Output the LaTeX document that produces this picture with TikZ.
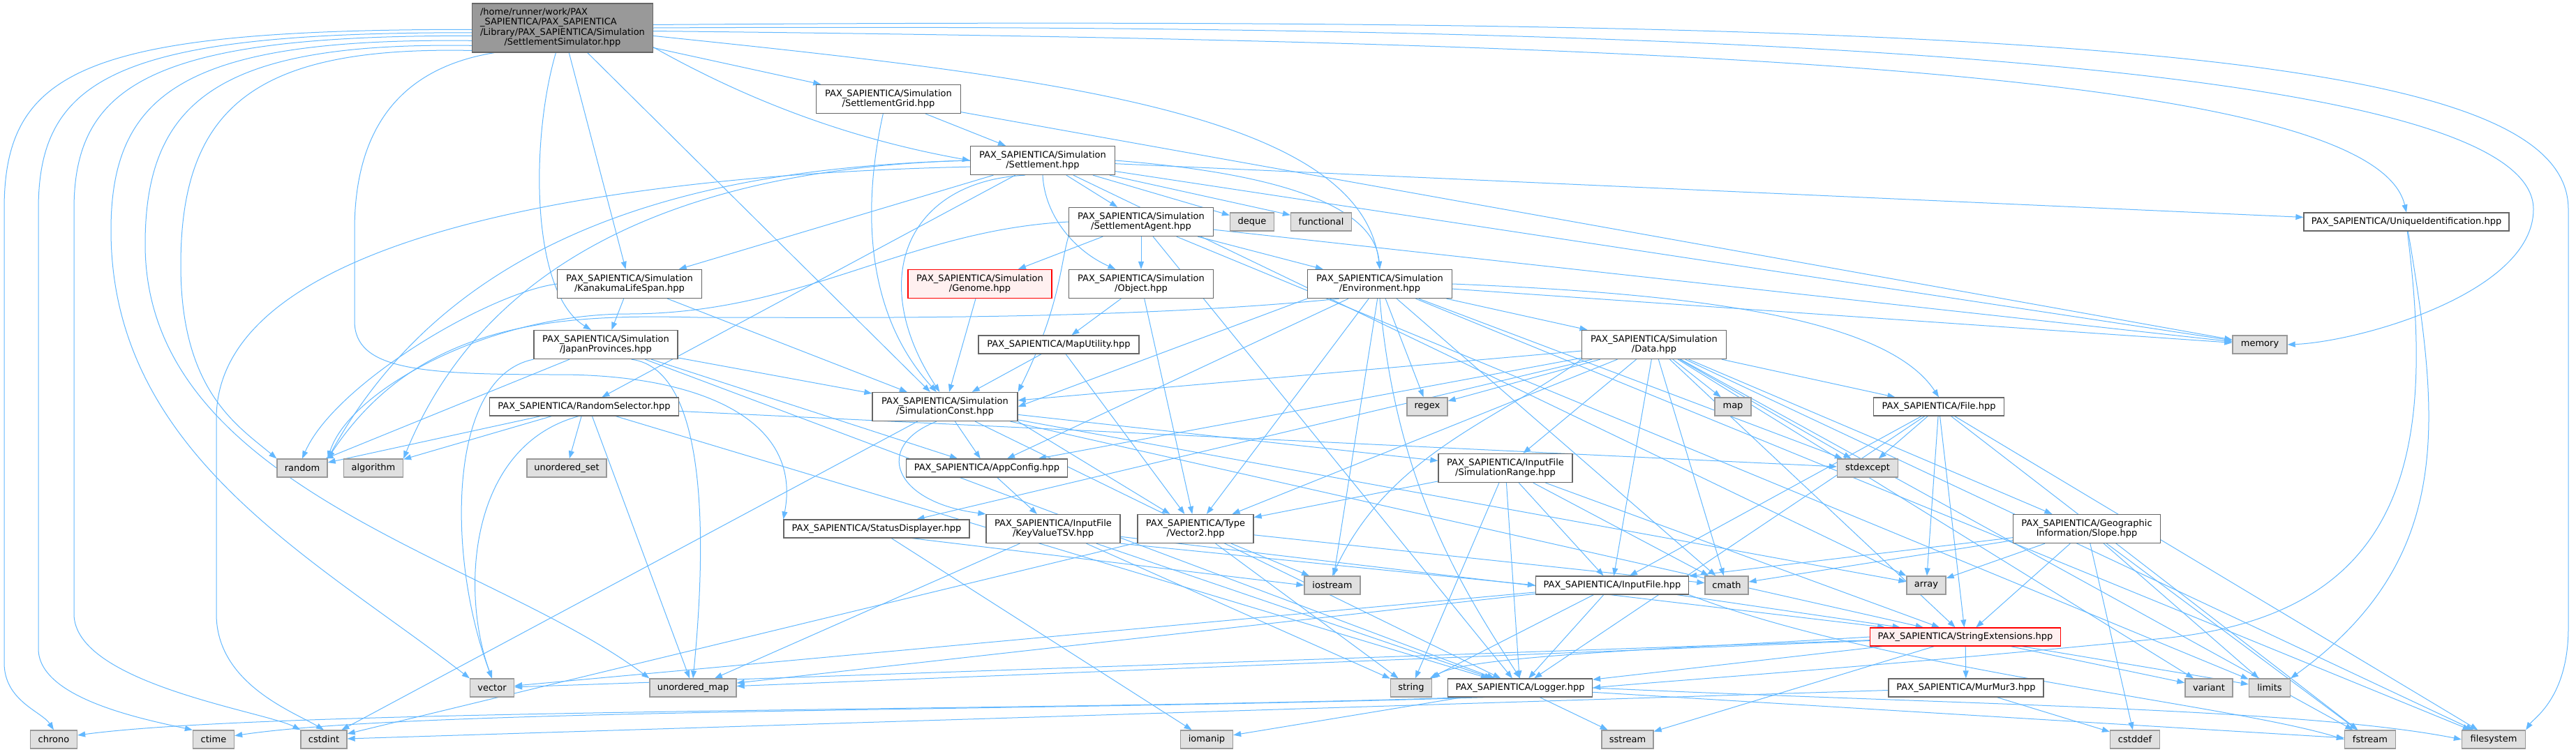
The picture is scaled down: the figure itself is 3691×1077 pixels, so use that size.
\documentclass[tikz,border=0pt]{standalone}
\usepackage{fontspec}
\setmainfont{DejaVu Sans}
\usetikzlibrary{arrows.meta,backgrounds}
\definecolor{edgeblue}{HTML}{63B8FF}
\definecolor{hdrgray}{HTML}{666666}
\definecolor{sysgray}{HTML}{999999}
\definecolor{sysfill}{HTML}{E0E0E0}
\definecolor{rootfill}{HTML}{999999}
\definecolor{redfill}{HTML}{FFF0F0}

\begin{document}
\begin{tikzpicture}[
  x=1pt, y=-1pt,
  font=\fontsize{13}{14.5}\selectfont,
  hbox/.style={draw=hdrgray, fill=white, line width=1.3pt, inner sep=0pt,
    align=center, minimum height=26pt, minimum width=#1},
  sbox/.style={hbox=#1, draw=sysgray, fill=sysfill},
  rbox/.style={hbox=#1, draw=red, fill=redfill},
  topbox/.style={hbox=#1, fill=rootfill, minimum height=70pt},
  twoline/.style={minimum height=41pt},
  dep/.style={draw=edgeblue, line width=1pt, -{Triangle[length=11pt,width=8pt]}}
]
\useasboundingbox (0,0) rectangle (3691,1077);

\node[topbox=259] (root) at (806,40) {\begin{tabular}{@{}l@{}}/home/runner/work/PAX\\\_SAPIENTICA/PAX\_SAPIENTICA\\/Library/PAX\_SAPIENTICA/Simulation\\\multicolumn{1}{@{}c@{}}{/SettlementSimulator.hpp}\end{tabular}};

\node[hbox=207, twoline] (grid) at (1273,142) {PAX\_SAPIENTICA/Simulation\\/SettlementGrid.hpp};
\node[hbox=207, twoline] (settle) at (1494,230) {PAX\_SAPIENTICA/Simulation\\/Settlement.hpp};
\node[hbox=207, twoline] (agent) at (1635,318) {PAX\_SAPIENTICA/Simulation\\/SettlementAgent.hpp};
\node[sbox=63] (deque) at (1794,318) {deque};
\node[sbox=87] (functional) at (1893,318) {functional};
\node[hbox=294] (uid) at (3448,318) {PAX\_SAPIENTICA/UniqueIdentification.hpp};
\node[rbox=206, twoline] (genome) at (1404,407) {PAX\_SAPIENTICA/Simulation\\/Genome.hpp};
\node[hbox=207, twoline] (object) at (1635,407) {PAX\_SAPIENTICA/Simulation\\/Object.hpp};
\node[hbox=207, twoline] (env) at (1977,407) {PAX\_SAPIENTICA/Simulation\\/Environment.hpp};
\node[hbox=207, twoline] (kanakuma) at (902,407) {PAX\_SAPIENTICA/Simulation\\/KanakumaLifeSpan.hpp};
\node[hbox=206, twoline] (japan) at (868,494) {PAX\_SAPIENTICA/Simulation\\/JapanProvinces.hpp};
\node[hbox=230] (maputil) at (1517,494) {PAX\_SAPIENTICA/MapUtility.hpp};
\node[hbox=207, twoline] (data) at (2370,494) {PAX\_SAPIENTICA/Simulation\\/Data.hpp};
\node[sbox=78] (memory) at (3238,494) {memory};
\node[hbox=271] (randsel) at (837,583) {PAX\_SAPIENTICA/RandomSelector.hpp};
\node[hbox=208, twoline] (simconst) at (1354,583) {PAX\_SAPIENTICA/Simulation\\/SimulationConst.hpp};
\node[sbox=58] (regex) at (2045,583) {regex};
\node[sbox=52] (map) at (2483,583) {map};
\node[hbox=187] (file) at (2778,583) {PAX\_SAPIENTICA/File.hpp};
\node[sbox=72] (random) at (433,671) {random};
\node[sbox=85] (algorithm) at (535,671) {algorithm};
\node[sbox=114] (uset) at (812,671) {unordered\_set};
\node[hbox=231] (appconf) at (1414,671) {PAX\_SAPIENTICA/AppConfig.hpp};
\node[hbox=192, twoline] (simrange) at (2157,671) {PAX\_SAPIENTICA/InputFile\\/SimulationRange.hpp};
\node[sbox=87] (stdexcept) at (2676,671) {stdexcept};
\node[hbox=266] (status) at (1256,758) {PAX\_SAPIENTICA/StatusDisplayer.hpp};
\node[hbox=192, twoline] (kvtsv) at (1509,758) {PAX\_SAPIENTICA/InputFile\\/KeyValueTSV.hpp};
\node[hbox=166, twoline] (vec2) at (1713,758) {PAX\_SAPIENTICA/Type\\/Vector2.hpp};
\node[hbox=211, twoline] (slope) at (2990,758) {PAX\_SAPIENTICA/Geographic\\Information/Slope.hpp};
\node[sbox=80] (iostream) at (1909,839) {iostream};
\node[hbox=219] (inputfile) at (2310,839) {PAX\_SAPIENTICA/InputFile.hpp};
\node[sbox=62] (cmath) at (2474,839) {cmath};
\node[sbox=56] (array) at (2760,839) {array};
\node[rbox=273] (strext) at (2816,913) {PAX\_SAPIENTICA/StringExtensions.hpp};
\node[sbox=63] (vector) at (705,986) {vector};
\node[sbox=124] (umap) at (993,986) {unordered\_map};
\node[sbox=59] (string) at (2022,986) {string};
\node[hbox=207] (logger) at (2178,986) {PAX\_SAPIENTICA/Logger.hpp};
\node[hbox=222] (murmur) at (2817,986) {PAX\_SAPIENTICA/MurMur3.hpp};
\node[sbox=68] (variant) at (3165,986) {variant};
\node[sbox=59] (limits) at (3252,986) {limits};
\node[sbox=67] (chrono) at (77,1060) {chrono};
\node[sbox=59] (ctime) at (306,1060) {ctime};
\node[sbox=66] (cstdint) at (464,1060) {cstdint};
\node[sbox=75] (iomanip) at (1729,1060) {iomanip};
\node[sbox=74] (sstream) at (2332,1060) {sstream};
\node[sbox=71] (cstddef) at (3059,1060) {cstddef};
\node[sbox=73] (fstream) at (3396,1060) {fstream};
\node[sbox=91] (filesystem) at (3573,1060) {filesystem};

\begin{scope}[on background layer]
\draw[dep] (root.181) .. controls (120,42) and (6,100) .. (6,300) -- (6,950) .. controls (6,1005) and (60,1020) .. (chrono.north);
\draw[dep] (root.183) .. controls (170,46) and (55,110) .. (55,300) -- (55,930) .. controls (55,1000) and (200,1030) .. (ctime.north west);
\draw[dep] (root.185) .. controls (220,50) and (106,120) .. (106,300) -- (106,880) .. controls (106,980) and (380,1020) .. (cstdint.north west);
\draw[dep] (root.188) .. controls (270,54) and (159,130) .. (159,330) .. controls (159,650) and (450,800) .. (vector.north west);
\draw[dep] (root.191) .. controls (320,60) and (208,140) .. (208,350) .. controls (208,700) and (700,800) .. (umap.north west);
\draw[dep] (root.194) .. controls (370,66) and (259,150) .. (259,380) .. controls (259,560) and (340,610) .. (random.north west);
\draw[dep] (root.200) .. controls (560,100) and (508,200) .. (508,330) -- (508,460) .. controls (508,530) and (600,537) .. (800,537) .. controls (1000,537) and (1150,600) .. (status.north west);
\draw[dep] (root) -- (kanakuma);
\draw[dep] (root.255) .. controls (760,200) and (760,420) .. (japan.135);
\draw[dep] (root) -- (simconst);
\draw[dep] (root) -- (grid);
\draw[dep] (root.-12) .. controls (1100,160) and (1250,205) .. (settle.west);
\draw[dep] (root.-5) .. controls (1500,110) and (1950,160) .. (env.north);
\draw[dep] (root.-2) .. controls (2400,60) and (3400,100) .. (uid.north);
\draw[dep] (root.0) .. controls (2800,30) and (3630,120) .. (3630,300) .. controls (3630,420) and (3380,490) .. (memory.east);
\draw[dep] (root.2) .. controls (3000,20) and (3680,80) .. (3680,300) -- (3680,900) .. controls (3680,1000) and (3630,1030) .. (filesystem.north east);

\draw[dep] (grid) -- (settle);
\draw[dep] (grid.250) .. controls (1235,300) and (1240,450) .. (simconst.120);
\draw[dep] (grid) -- (memory);

\draw[dep] (settle) -- (agent);
\draw[dep] (settle) -- (deque);
\draw[dep] (settle) -- (functional);
\draw[dep] (settle.south) .. controls (1497,310) and (1540,360) .. (object.150);
\draw[dep] (settle.east) .. controls (1850,250) and (1970,300) .. (env.north);
\draw[dep] (settle) -- (memory);
\draw[dep] (settle) -- (uid);
\draw[dep] (settle) -- (kanakuma);
\draw[dep] (settle.220) .. controls (1300,260) and (1240,400) .. (simconst.110);
\draw[dep] (settle.west) .. controls (1000,240) and (650,330) .. (random.north east);
\draw[dep] (settle.west) .. controls (1000,240) and (700,360) .. (algorithm.north east);
\draw[dep] (settle.185) .. controls (900,250) and (310,330) .. (310,600) -- (310,880) .. controls (310,980) and (420,1020) .. (cstdint.north);
\draw[dep] (settle) -- (randsel);
\draw[dep] (settle) -- (array);

\draw[dep] (agent) -- (genome);
\draw[dep] (agent) -- (object);
\draw[dep] (agent) -- (env);
\draw[dep] (agent.south west) .. controls (1519,380) and (1519,440) .. (simconst.north east);
\draw[dep] (agent.west) .. controls (1300,330) and (1150,450) .. (900,450) .. controls (700,450) and (500,560) .. (random.north east);
\draw[dep] (agent) -- (memory);
\draw[dep] (agent) -- (logger);
\draw[dep] (agent) -- (limits);

\draw[dep] (env) -- (data);
\draw[dep] (env.east) .. controls (2400,420) and (2700,450) .. (file.north);
\draw[dep] (env) -- (regex);
\draw[dep] (env) -- (appconf);
\draw[dep] (env) -- (vec2);
\draw[dep] (env.south west) -- (simconst.east);
\draw[dep] (env.south) .. controls (2000,700) and (2100,850) .. (logger.north);
\draw[dep] (env) -- (memory);
\draw[dep] (env.200) .. controls (1600,460) and (1200,455) .. (1000,455) .. controls (800,450) and (600,460) .. (random.north east);
\draw[dep] (env) -- (stdexcept);
\draw[dep] (env) -- (filesystem);
\draw[dep] (env) -- (iostream);
\draw[dep] (env) -- (cmath);

\draw[dep] (data) -- (map);
\draw[dep] (data) -- (file);
\draw[dep] (data) -- (stdexcept);
\draw[dep] (data) -- (simconst);
\draw[dep] (data) -- (simrange);
\draw[dep] (data) -- (slope);
\draw[dep] (data) -- (strext);
\draw[dep] (data) -- (inputfile);
\draw[dep] (data) -- (vec2);
\draw[dep] (data) -- (cmath);
\draw[dep] (data.south west) .. controls (2150,600) and (1990,650) .. (iostream.north);
\draw[dep] (data) -- (fstream);
\draw[dep] (data) -- (filesystem);
\draw[dep] (data) -- (appconf);
\draw[dep] (data) -- (status);
\draw[dep] (data) -- (variant);
\draw[dep] (data) -- (regex);

\draw[dep] (file) -- (stdexcept);
\draw[dep] (file) -- (array);
\draw[dep] (file) -- (strext);
\draw[dep] (file) -- (inputfile);
\draw[dep] (file) -- (logger);
\draw[dep] (file) -- (fstream);
\draw[dep] (file) -- (filesystem);

\draw[dep] (slope) -- (cmath);
\draw[dep] (slope) -- (inputfile);
\draw[dep] (slope) -- (array);
\draw[dep] (slope) -- (strext);
\draw[dep] (slope) -- (limits);
\draw[dep] (slope) -- (cstddef);
\draw[dep] (slope) -- (fstream);

\draw[dep] (inputfile) -- (strext);
\draw[dep] (inputfile) -- (logger);
\draw[dep] (inputfile) -- (string);
\draw[dep] (inputfile.south east) .. controls (2700,960) and (3200,1010) .. (fstream.west);
\draw[dep] (inputfile) -- (vector);
\draw[dep] (inputfile) -- (umap);

\draw[dep] (strext) -- (murmur);
\draw[dep] (strext) -- (logger);
\draw[dep] (strext.west) .. controls (2400,930) and (2100,940) .. (string.north east);
\draw[dep] (strext) -- (vector);
\draw[dep] (strext) -- (umap);
\draw[dep] (strext) -- (variant);
\draw[dep] (strext) -- (limits);
\draw[dep] (strext) -- (sstream);

\draw[dep] (murmur) -- (cstdint);
\draw[dep] (murmur) -- (cstddef);

\draw[dep] (logger.190) .. controls (1500,1020) and (400,1015) .. (chrono.10);
\draw[dep] (logger.195) .. controls (1500,1020) and (600,1015) .. (ctime.10);
\draw[dep] (logger) -- (iomanip);
\draw[dep] (logger) -- (sstream);
\draw[dep] (logger) -- (fstream);
\draw[dep] (logger.east) .. controls (2800,1010) and (3300,1015) .. (filesystem.west);

\draw[dep] (simconst) -- (appconf);
\draw[dep] (simconst.240) .. controls (1250,640) and (1280,720) .. (kvtsv.north west);
\draw[dep] (simconst.south east) -- (vec2.150);
\draw[dep] (simconst) -- (simrange);
\draw[dep] (simconst) -- (cstdint);
\draw[dep] (simconst) -- (logger);
\draw[dep] (simconst) -- (strext);
\draw[dep] (simconst) -- (array);

\draw[dep] (appconf) -- (kvtsv);

\draw[dep] (kvtsv.south east) -- (inputfile.west);
\draw[dep] (kvtsv) -- (string);
\draw[dep] (kvtsv) -- (umap);
\draw[dep] (kvtsv) -- (strext);
\draw[dep] (kvtsv) -- (logger);

\draw[dep] (vec2) -- (iostream);
\draw[dep] (vec2) -- (cmath);
\draw[dep] (vec2) -- (string);
\draw[dep] (vec2) -- (cstdint);

\draw[dep] (simrange) -- (inputfile);
\draw[dep] (simrange) -- (vec2);
\draw[dep] (simrange) -- (logger);
\draw[dep] (simrange) -- (string);
\draw[dep] (simrange) -- (cmath);
\draw[dep] (simrange) -- (strext);

\draw[dep] (status.-15) -- (iostream.west);
\draw[dep] (status) -- (iomanip);

\draw[dep] (randsel) -- (random);
\draw[dep] (randsel) -- (algorithm);
\draw[dep] (randsel) -- (uset);
\draw[dep] (randsel.240) .. controls (670,640) and (660,850) .. (vector.north);
\draw[dep] (randsel.-50) -- (umap.110);
\draw[dep] (randsel) -- (stdexcept);
\draw[dep] (randsel) -- (logger);

\draw[dep] (uid.-80) .. controls (3495,600) and (3520,800) .. (limits.north east);
\draw[dep] (uid.-85) .. controls (3490,650) and (3450,880) .. (3100,915) .. controls (2700,955) and (2400,975) .. (logger.east);

\draw[dep] (japan) -- (random);
\draw[dep] (japan.south west) .. controls (640,540) and (640,800) .. (vector.north);
\draw[dep] (japan.-30) .. controls (1020,530) and (1010,800) .. (umap.north);
\draw[dep] (japan) -- (simconst);
\draw[dep] (japan) -- (appconf);
\draw[dep] (japan) -- (logger);

\draw[dep] (kanakuma) -- (japan);
\draw[dep] (kanakuma.west) .. controls (700,420) and (480,550) .. (random.north);
\draw[dep] (kanakuma) -- (simconst);

\draw[dep] (genome) -- (simconst);
\draw[dep] (object) -- (maputil);
\draw[dep] (object) -- (vec2);
\draw[dep] (maputil) -- (simconst);
\draw[dep] (maputil) -- (vec2);
\end{scope}
\end{tikzpicture}
\end{document}
